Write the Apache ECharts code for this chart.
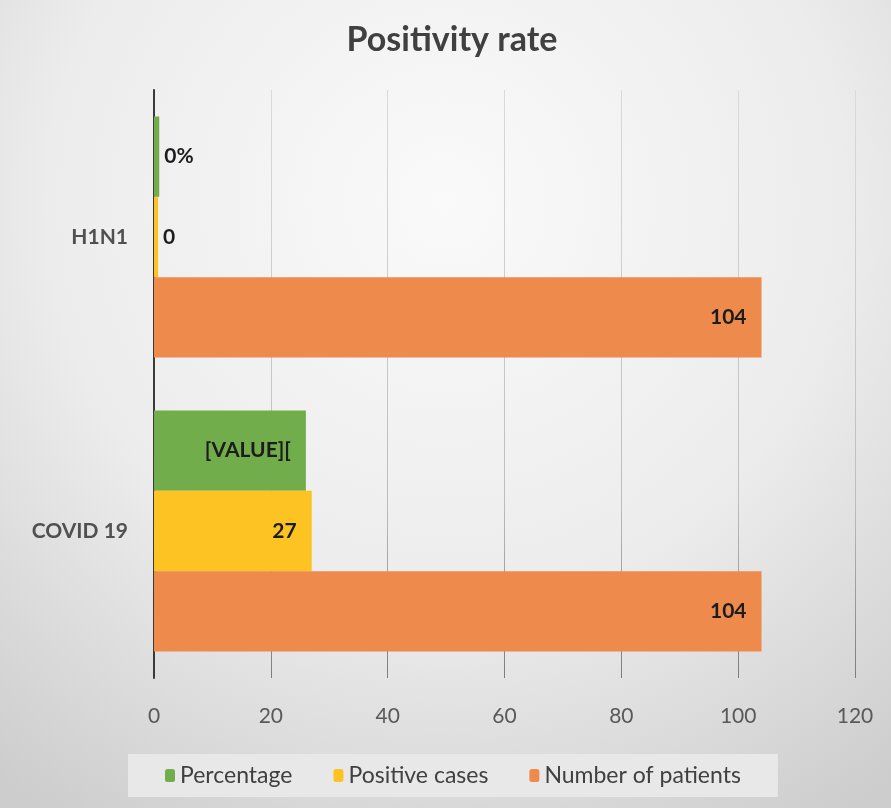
<!DOCTYPE html>
<html>
<head>
<meta charset="utf-8">
<script src="https://cdn.jsdelivr.net/npm/echarts@6/dist/echarts.min.js"></script>
<style>
html,body{margin:0;padding:0;}
#c{width:891px;height:808px;}
</style>
</head>
<body>
<div id="c"></div>
<script>
var categories = ['H1N1', 'COVID 19'];
var seriesNames = ['Percentage', 'Positive cases', 'Number of patients'];
var percentage = [0.9, 26];
var positiveCases = [0.7, 27];
var patients = [104, 104];
var percentageLabels = ['0%', '[VALUE]['];
var positiveLabels = ['0', '27'];
var patientLabels = ['104', '104'];
var xTicks = [0, 20, 40, 60, 80, 100, 120];
var colors = ['#72ad4b', '#fdc322', '#ee8a4b'];

function makeData(vals, labels) {
  return vals.map(function (v, i) {
    var small = v < 5;
    return {
      value: v,
      label: {
        show: true,
        position: small ? 'right' : 'insideRight',
        distance: small ? 5 : 15,
        formatter: labels[i]
      }
    };
  });
}

var labelStyle = {fontFamily: 'Lato', fontWeight: 'bold', fontSize: 21, color: '#1c1c1c'};

var chart = echarts.init(document.getElementById('c'));
chart.setOption({
  backgroundColor: {
    type: 'radial', x: 0.5, y: 0.25, r: 0.9,
    colorStops: [{offset: 0, color: '#fafafa'}, {offset: 0.55, color: '#ececec'}, {offset: 1, color: '#cdcdcd'}]
  },
  textStyle: {fontFamily: 'Lato'},
  title: {
    text: 'Positivity rate', left: 452, textAlign: 'center', top: 23, padding: 0,
    textStyle: {fontFamily: 'Lato', fontSize: 34, fontWeight: 'bold', color: '#404040'}
  },
  legend: {
    bottom: 11, left: 128,
    data: seriesNames,
    itemWidth: 10, itemHeight: 13, itemGap: 41,
    backgroundColor: '#e8e8e8',
    padding: [10, 37, 10, 37],
    textStyle: {fontFamily: 'Lato', fontSize: 23, color: '#404040'}
  },
  grid: {left: 154, right: 36, top: 90, bottom: 130, containLabel: false},
  xAxis: {
    type: 'value', min: 0, max: 120, interval: 20,
    axisLine: {show: false},
    axisTick: {show: false},
    splitLine: {
      show: true,
      lineStyle: {
        width: 1,
        color: {type: 'linear', x: 0, y: 90, x2: 0, y2: 680, global: true,
          colorStops: [{offset: 0, color: '#dadada'}, {offset: 0.7, color: '#bdbdbd'}, {offset: 1, color: '#7c7c7c'}]}
      }
    },
    axisLabel: {
      margin: 28, fontFamily: 'Lato', fontSize: 21, color: '#595959',
      formatter: function (v) { return xTicks.indexOf(v) >= 0 ? String(v) : ''; }
    }
  },
  yAxis: {
    type: 'category', data: categories, inverse: true,
    axisLine: {show: true, lineStyle: {color: '#3a3a3a', width: 2}},
    axisTick: {show: false},
    axisLabel: {margin: 26, fontFamily: 'Lato', fontSize: 21, color: '#505050', fontWeight: 'bold'}
  },
  series: [
    {name: seriesNames[0], type: 'bar', barGap: '0%', barCategoryGap: '18%', itemStyle: {color: colors[0]},
     label: labelStyle, data: makeData(percentage, percentageLabels)},
    {name: seriesNames[1], type: 'bar', barGap: '0%', barCategoryGap: '18%', itemStyle: {color: colors[1]},
     label: labelStyle, data: makeData(positiveCases, positiveLabels)},
    {name: seriesNames[2], type: 'bar', barGap: '0%', barCategoryGap: '18%', itemStyle: {color: colors[2]},
     label: labelStyle, data: makeData(patients, patientLabels)}
  ]
});
</script>
</body>
</html>
